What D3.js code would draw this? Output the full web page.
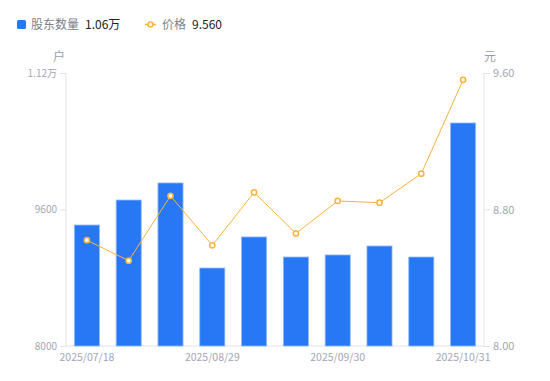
<!DOCTYPE html>
<html>
<head>
<meta charset="utf-8">
<script src="https://cdn.jsdelivr.net/npm/d3@7"></script>
<style>
  body { margin: 0; background: #fff; font-family: "Noto Sans CJK SC", "Noto Sans", sans-serif; }
  text { font-family: "Noto Sans CJK SC", "Noto Sans", sans-serif; }
</style>
</head>
<body>
<script>
var w = 550;
var h = 381;

// dates, holders (户) and price (元)
var dates = ["2025/07/18", "2025/07/31", "2025/08/15", "2025/08/29", "2025/09/10",
             "2025/09/19", "2025/09/30", "2025/10/10", "2025/10/20", "2025/10/31"];
var holders = [9418, 9711, 9911, 8914, 9278, 9043, 9067, 9172, 9043, 10614];
var prices = [8.62, 8.50, 8.88, 8.59, 8.90, 8.66, 8.85, 8.84, 9.01, 9.56];
var shownDates = ["2025/07/18", "2025/08/29", "2025/09/30", "2025/10/31"];
var leftTicks = [8000, 9600, 11200];
var rightTicks = [8.00, 8.80, 9.60];

// plot area (don't call it "top", that's window.top)
var plotLeft = 66, plotRight = 484, plotTop = 73, plotBottom = 346;
var axisColor = "#e3e3e3";
var tickText = "#a3a6b4";
var blue = "#2878f5";
var orange = "#fbb23f";

var svg = d3.select("body").append("svg").attr("width", w).attr("height", h);

var x = d3.scaleBand().domain(dates).range([plotLeft, plotRight]).paddingInner(0.4).paddingOuter(0.2);
var yL = d3.scaleLinear().domain([8000, 11200]).range([plotBottom, plotTop]);
var yR = d3.scaleLinear().domain([8.0, 9.6]).range([plotBottom, plotTop]);

// axes
var gl = svg.append("g").attr("transform", "translate(" + plotLeft + ",0)")
  .call(d3.axisLeft(yL).tickValues(leftTicks).tickSize(6).tickPadding(3)
    .tickFormat(function(d) { return d >= 10000 ? (d / 10000).toFixed(2) + "万" : d; }));
var gr = svg.append("g").attr("transform", "translate(" + plotRight + ",0)")
  .call(d3.axisRight(yR).tickValues(rightTicks).tickSize(6).tickPadding(3)
    .tickFormat(d3.format(".2f")));
var gx = svg.append("g").attr("transform", "translate(0," + plotBottom + ")")
  .call(d3.axisBottom(x).tickValues(shownDates).tickSize(0).tickPadding(8));

[gl, gr, gx].forEach(function(g) {
  g.select(".domain").attr("stroke", axisColor).attr("stroke-width", 1);
  g.selectAll(".tick line").attr("stroke", axisColor);
  g.selectAll("text").attr("fill", tickText).style("font-size", "11px");
});
gl.select(".domain").attr("d", "M0," + plotTop + "V" + plotBottom);
gr.select(".domain").attr("d", "M0," + plotTop + "V" + plotBottom);
gx.select(".domain").attr("d", "M" + plotLeft + ",0H" + plotRight);
gl.selectAll(".tick text").style("font-size", "10px");
gx.selectAll(".tick text").style("font-size", "10.5px");

// unit labels
svg.append("text").attr("x", 59).attr("y", 61).attr("text-anchor", "middle")
  .attr("fill", "#9a9da9").style("font-size", "12px").text("户");
svg.append("text").attr("x", 490).attr("y", 61).attr("text-anchor", "middle")
  .attr("fill", "#9a9da9").style("font-size", "12px").text("元");

// bars
svg.append("g").selectAll("rect")
  .data(holders)
  .enter().append("rect")
  .attr("x", function(d, i) { return x(dates[i]); })
  .attr("y", function(d) { return yL(d); })
  .attr("width", x.bandwidth())
  .attr("height", function(d) { return plotBottom - yL(d); })
  .attr("fill", blue)
  .attr("stroke", "#8fb8fa")
  .attr("stroke-width", 0.8);

// price line
var line = d3.line()
  .x(function(d, i) { return x(dates[i]) + x.bandwidth() / 2; })
  .y(function(d) { return yR(d); });

svg.append("path").datum(prices)
  .attr("d", line)
  .attr("fill", "none")
  .attr("stroke", orange)
  .attr("stroke-width", 1);

svg.append("g").selectAll("circle")
  .data(prices)
  .enter().append("circle")
  .attr("cx", function(d, i) { return x(dates[i]) + x.bandwidth() / 2; })
  .attr("cy", function(d) { return yR(d); })
  .attr("r", 2.6)
  .attr("fill", "#fff")
  .attr("stroke", orange)
  .attr("stroke-width", 1.5);

// legend
var lg = svg.append("g");
lg.append("rect").attr("x", 17).attr("y", 20).attr("width", 9).attr("height", 9)
  .attr("rx", 1.5).attr("fill", blue);
lg.append("text").attr("x", 31).attr("y", 29).attr("fill", "#7c7f8c")
  .style("font-size", "12px").text("股东数量");
lg.append("text").attr("x", 85).attr("y", 29).attr("fill", "#222")
  .style("font-size", "12px").text("1.06万");

lg.append("line").attr("x1", 145).attr("x2", 156).attr("y1", 24.5).attr("y2", 24.5)
  .attr("stroke", orange).attr("stroke-width", 1.5);
lg.append("circle").attr("cx", 150.5).attr("cy", 24.5).attr("r", 2.5)
  .attr("fill", "#fff").attr("stroke", orange).attr("stroke-width", 1.5);
lg.append("text").attr("x", 162).attr("y", 29).attr("fill", "#7c7f8c")
  .style("font-size", "12px").text("价格");
lg.append("text").attr("x", 192).attr("y", 29).attr("fill", "#222")
  .style("font-size", "12px").text("9.560");
</script>
</body>
</html>
